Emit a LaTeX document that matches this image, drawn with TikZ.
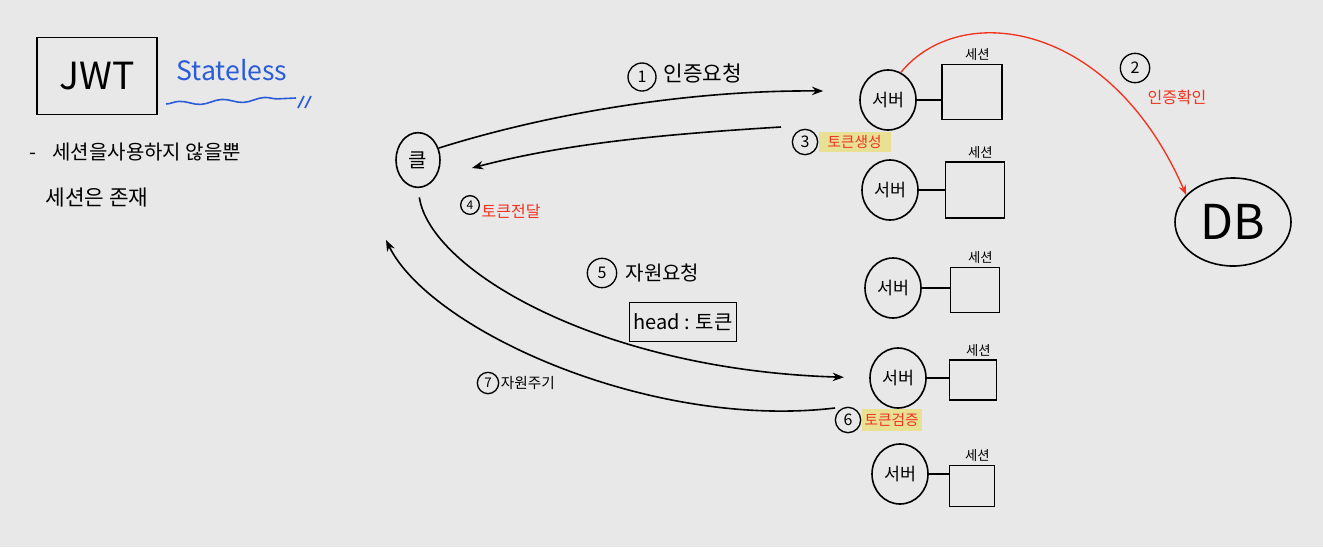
\documentclass[tikz,border=0pt]{standalone}
\usepackage{fontspec}
\setmainfont{Noto Sans CJK KR}
\usepackage{tikz}
\usetikzlibrary{arrows.meta,positioning,calc,shapes.geometric,decorations.pathmorphing}
\definecolor{BoardGray}{HTML}{E8E8E8}
\definecolor{PenRed}{HTML}{F2321E}
\definecolor{PenBlue}{HTML}{2B5CD8}
\definecolor{Marker}{HTML}{E8E193}

\begin{document}
\begin{tikzpicture}[x=0.75pt,y=-0.75pt,>=Stealth]
\tikzstyle{server}=[ellipse,draw,line width=1.2pt,minimum width=42pt,minimum height=45pt,inner sep=0pt,font=\fontsize{13}{15}\selectfont]
\tikzstyle{session}=[rectangle,draw,line width=1.2pt]
\tikzstyle{tag}=[font=\fontsize{10}{12}\selectfont,inner sep=1pt]
\tikzstyle{num}=[circle,draw,line width=1pt,inner sep=0pt,minimum size=19pt,font=\fontsize{12}{14}\selectfont]
\tikzstyle{msg}=[font=\fontsize{15}{17}\selectfont,inner sep=1pt]
\tikzstyle{redmsg}=[msg,text=PenRed,font=\fontsize{11}{13}\selectfont]
\tikzstyle{flow}=[->,line width=1.2pt]
\fill[BoardGray] (0,0) rectangle (1323,547);
\useasboundingbox (0,0) rectangle (1323,547);
% title and notes
\node[draw,line width=1.2pt,minimum width=90pt,minimum height=58pt,font=\fontsize{28}{30}\selectfont] (jwt) at (97,76) {JWT};
\node[text=PenBlue,font=\fontsize{20}{22}\selectfont,inner sep=1pt] (stateless) at (232,70) {Stateless};
\draw[PenBlue,line width=1.2pt,decorate,decoration={snake,amplitude=1.5pt,segment length=32pt}] (166,104) -- (296,98);
\draw[PenBlue,line width=1.2pt] (298,108) -- (304,96) (305,108) -- (311,96);
\node[msg,anchor=west] (note1) at (28,152) {-\hspace{12pt}세션을사용하지 않을뿐};
\node[msg,anchor=west,font=\fontsize{16}{18}\selectfont] (note2) at (44,198) {세션은 존재};
% client, servers, sessions, db
\node[ellipse,draw,line width=1.2pt,minimum width=33pt,minimum height=41pt,inner sep=0pt,font=\fontsize{15}{17}\selectfont] (client) at (418,160) {클};
\node[server] (srv1) at (888,100) {서버};
\node[server] (srv2) at (890,190) {서버};
\node[server] (srv3) at (893,288) {서버};
\node[server] (srv4) at (898,378) {서버};
\node[server] (srv5) at (900,474) {서버};
\node[session,minimum width=45pt,minimum height=41pt] (ses1) at (972,92) {};
\node[session,minimum width=44pt,minimum height=42pt] (ses2) at (975,190) {};
\node[session,minimum width=37pt,minimum height=34pt] (ses3) at (975,290) {};
\node[session,minimum width=35pt,minimum height=30pt] (ses4) at (973,380) {};
\node[session,minimum width=34pt,minimum height=31pt] (ses5) at (972,486) {};
\foreach \i in {1,...,5} {
  \node[tag,above=1pt of ses\i,xshift=4pt] (tag\i) {세션};
  \draw[line width=1.2pt] (srv\i.east) -- (srv\i.east -| ses\i.west);
}
\node[ellipse,draw,line width=1.2pt,minimum width=87pt,minimum height=66pt,inner sep=0pt,font=\fontsize{36}{38}\selectfont] (db) at (1233,222) {DB};
% free ends
\coordinate (gen3) at (781,127);
\coordinate (tok4) at (472,168);
\coordinate (chk6) at (835,408);
\coordinate (res7) at (386,240);
% steps
\draw[flow] (client.30) .. controls (560,110) and (700,90) .. ($(srv1.west)+(-36,-9)$);
\draw[flow] (gen3) .. controls (650,135) and (560,145) .. (tok4);
\draw[flow,PenRed,line width=1pt] (srv1.65) .. controls (960,0) and (1110,20) .. (db.150);
\draw[flow,shorten <=7pt,shorten >=19pt] (client.south) .. controls (430,270) and (600,370) .. (srv4.west);
\draw[flow] (chk6) .. controls (650,430) and (430,330) .. (res7);
% step labels
\node[num,minimum size=21pt] (n1) at (642,77) {1};
\node[msg,font=\fontsize{16}{18}\selectfont,right=4pt of n1,yshift=3pt] (t1) {인증요청};
\node[num,minimum size=22pt] (n2) at (1135,68) {2};
\node[redmsg,font=\fontsize{12}{14}\selectfont] (t2) at (1177,97) {인증확인};
\node[num] (n3) at (805,142) {3};
\node[redmsg,fill=Marker,right=0pt of n3,minimum width=54pt,minimum height=15pt,inner sep=0pt] (t3) {토큰생성};
\node[num,minimum size=14pt,font=\fontsize{9}{10}\selectfont] (n4) at (470,205) {4};
\node[redmsg,font=\fontsize{12}{14}\selectfont,right=0pt of n4,yshift=-5pt] (t4) {토큰전달};
\node[num,minimum size=22pt] (n5) at (602,273) {5};
\node[msg,right=5pt of n5] (t5) {자원요청};
\node[draw,line width=1.2pt,minimum width=80pt,minimum height=29pt,msg] (hdr) at (683,322) {head : 토큰};
\node[num] (n6) at (848,420) {6};
\node[redmsg,fill=Marker,right=0pt of n6,minimum width=45pt,minimum height=16pt,inner sep=0pt] (t6) {토큰검증};
\node[num,minimum size=16pt,font=\fontsize{10}{11}\selectfont] (n7) at (488,383) {7};
\node[msg,font=\fontsize{11}{13}\selectfont,right=0pt of n7] (t7) {자원주기};
\end{tikzpicture}
\end{document}
